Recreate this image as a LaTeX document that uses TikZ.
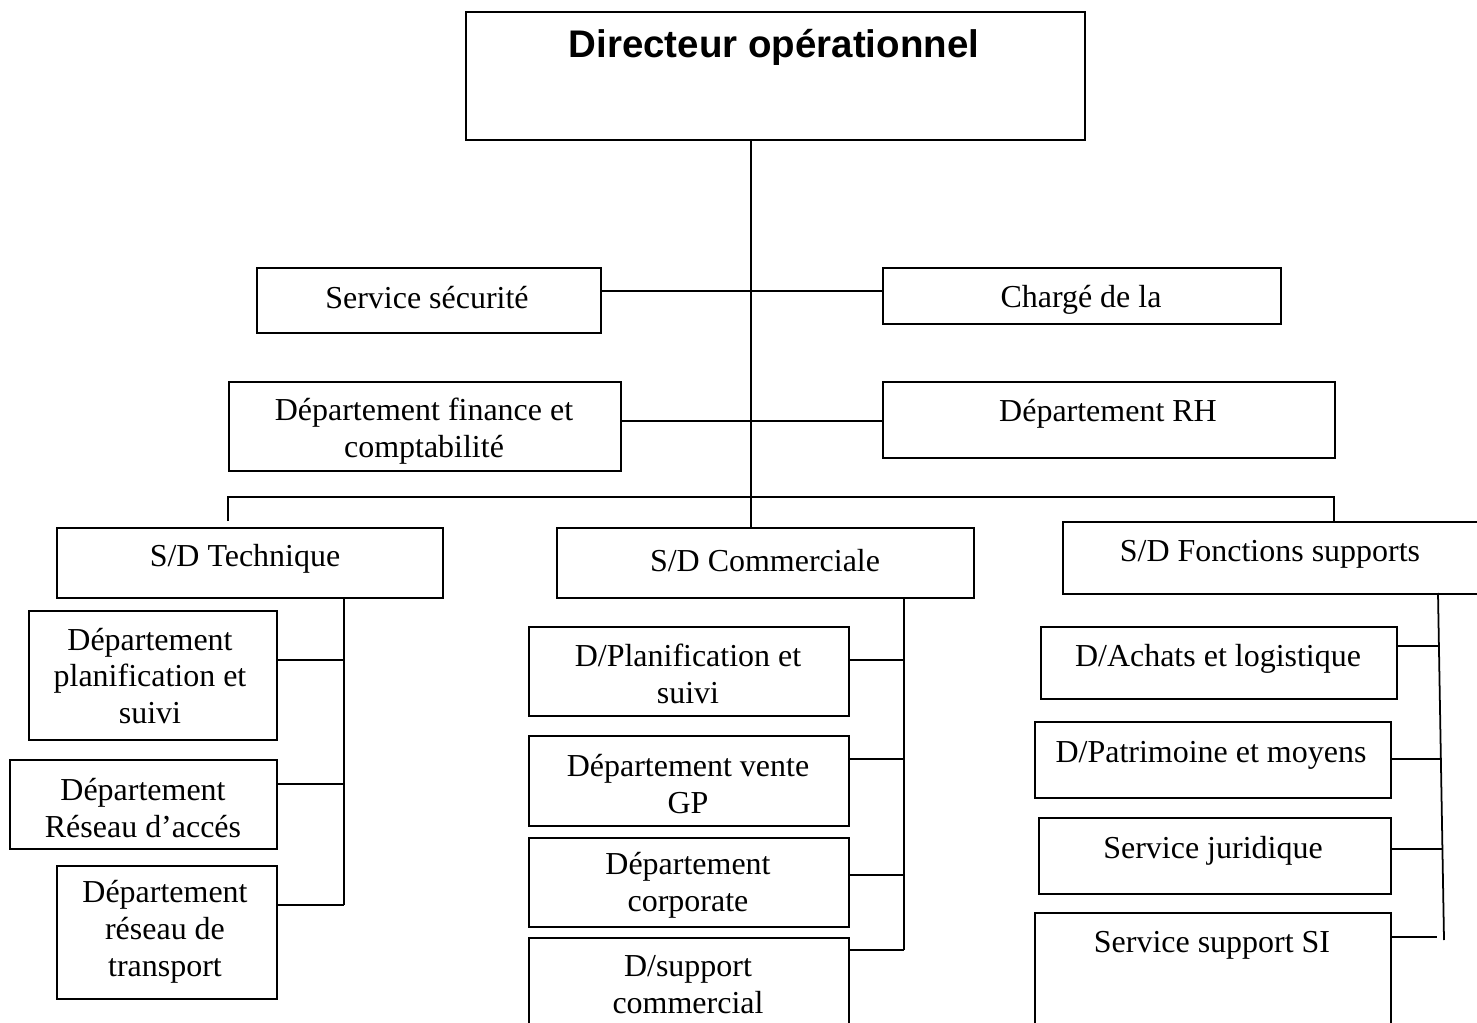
\documentclass[tikz,border=0pt]{standalone}
\usepackage{fontspec}
\setmainfont{Liberation Serif}
\newfontfamily\titlefont{Liberation Sans}
% rectangular frame given by its corners (x1,y1) and (x2,y2)
\newcommand\orgbox[5]{\node[box, anchor=north west,
  minimum width={(#4-#2)*0.02cm}, minimum height={(#5-#3)*0.02cm}] (#1) at (#2,#3) {};}
\begin{document}
\begin{tikzpicture}[x=0.02cm,y=-0.02cm,
  box/.style={draw, line width=1pt, inner sep=0pt},
  txt/.style={align=center, inner sep=0pt, font=\fontsize{18.2}{21}\selectfont},
  wire/.style={line width=1pt}]
\useasboundingbox (0,0) rectangle (1477,1023);
\clip (0,0) rectangle (1477,1023);

% --- frames ---
\orgbox{dir}{465}{11}{1084}{139}
\orgbox{sec}{256}{267}{600}{332}
\orgbox{chg}{882}{267}{1280}{323}
\orgbox{fin}{228}{381}{620}{470}
\orgbox{rh}{882}{381}{1334}{457}
\orgbox{tec}{56}{527}{442}{597}
\orgbox{com}{556}{527}{973}{597}
% this frame runs out past the right border of the page
\orgbox{fon}{1062}{521}{1540}{593}
\orgbox{t1}{28}{610}{276}{739}
\orgbox{t2}{9}{759}{276}{848}
\orgbox{t3}{56}{865}{276}{998}
\orgbox{c1}{528}{626}{848}{715}
\orgbox{c2}{528}{735}{848}{825}
\orgbox{c3}{528}{837}{848}{926}
\orgbox{c4}{528}{937}{848}{1040}
\orgbox{f1}{1040}{626}{1396}{698}
\orgbox{f2}{1034}{721}{1390}{797}
\orgbox{f3}{1038}{817}{1390}{893}
\orgbox{f4}{1034}{912}{1390}{1040}

% --- texts ---
\node[font=\titlefont\bfseries\fontsize{21.9}{25}\selectfont, inner sep=0pt] (dirt) at (774,47) {Directeur opérationnel};
\node[txt] (sect) at (427,298) {Service sécurité};
\node[txt] (chgt) at (1081,300) {Chargé de la};
\node[txt] (fint) at (424,431) {Département finance et\\comptabilité};
\node[txt] (rht) at (1108,414) {Département RH};
\node[txt] (tect) at (245,559) {S/D Technique};
\node[txt] (comt) at (765,561) {S/D Commerciale};
\node[txt] (font) at (1270,554) {S/D Fonctions supports};
\node[txt] (t1t) at (150,676) {Département\\planification et\\suivi};
\node[txt] (t2t) at (143,808) {Département\\Réseau d’accés};
\node[txt] (t3t) at (165,932) {Département\\réseau de\\transport};
\node[txt] (c1t) at (688,674) {D/Planification et\\suivi};
\node[txt] (c2t) at (688,784) {Département vente\\GP};
\node[txt] (c3t) at (688,885) {Département\\corporate};
\node[txt] (c4t) at (688,985) {D/support\\commercial};
\node[txt] (f1t) at (1218,659) {D/Achats et logistique};
\node[txt] (f2t) at (1211,755) {D/Patrimoine et moyens};
\node[txt] (f3t) at (1213,851) {Service juridique};
\node[txt] (f4t) at (1212,945) {Service support SI};

% --- junction points ---
\coordinate (j1) at (751,291);
\coordinate (j2) at (751,421);
\coordinate (bus) at (751,497);
\coordinate (busL) at (228,497);
\coordinate (busLd) at (228,521);
\coordinate (busR) at (1334,497);
\coordinate (tv0) at (344,597);
\coordinate (tv1) at (344,660);
\coordinate (tv2) at (344,784);
\coordinate (tv3) at (344,905);
\coordinate (cv0) at (904,597);
\coordinate (cv1) at (904,660);
\coordinate (cv2) at (904,759);
\coordinate (cv3) at (904,875);
\coordinate (cv4) at (904,950);
\coordinate (fv0) at (1438,593);
\coordinate (fv1) at (1438,646);
\coordinate (fv2) at (1441,759);
\coordinate (fv3) at (1442,849);
\coordinate (fv4) at (1444,940);

% --- connectors ---
\draw[wire] (dir.south -| bus) -- (bus) -- (com.north -| bus);
\draw[wire] (sec.east |- j1) -- (chg.west |- j1);
\draw[wire] (fin.east |- j2) -- (j2) -- (rh.west |- j2);
\draw[wire] (busLd) -- (busL) -- (busR) -- (busR |- fon.north);
\draw[wire] (tv0) -- (tv3);
\draw[wire] (t1.east |- tv1) -- (tv1);
\draw[wire] (t2.east |- tv2) -- (tv2);
\draw[wire] (t3.east |- tv3) -- (tv3);
\draw[wire] (cv0) -- (cv4);
\draw[wire] (c1.east |- cv1) -- (cv1);
\draw[wire] (c2.east |- cv2) -- (cv2);
\draw[wire] (c3.east |- cv3) -- (cv3);
\draw[wire] (c4.east |- cv4) -- (cv4);
\draw[wire] (fv0) -- (fv4);
\draw[wire] (f1.east |- fv1) -- (fv1);
\draw[wire] (f2.east |- fv2) -- (fv2);
\draw[wire] (f3.east |- fv3) -- (fv3);
\draw[wire] (f4.east |- 0,937) -- (1437,937);
\end{tikzpicture}
\end{document}
